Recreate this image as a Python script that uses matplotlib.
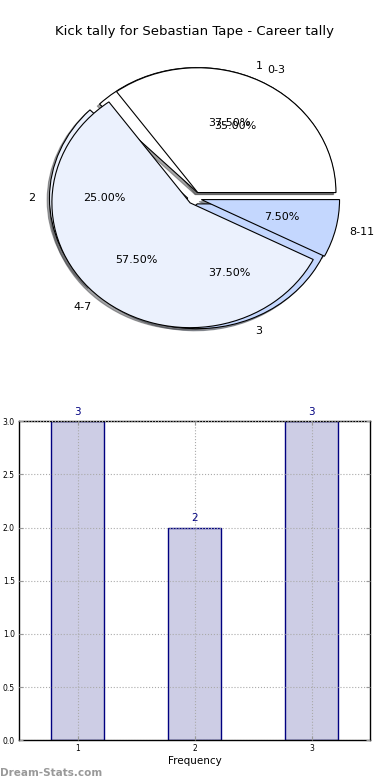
import numpy as np
import matplotlib
matplotlib.use('Agg')
import matplotlib.pyplot as plt

title = 'Kick tally for Sebastian Tape - Career tally'

# inner pie: frequency of tallies
freq_labels = ['1', '2', '3']
freq_values = [3, 2, 3]

# outer pie: kick ranges
range_labels = ['0-3', '4-7', '8-11']
range_values = [14, 23, 3]

pie_colors = ['#ffffff', '#ebf1fd', '#c4d7fe']

# bar chart
bar_x = [1, 2, 3]
bar_counts = [3, 2, 3]

fig = plt.figure(figsize=(3.9, 7.8), dpi=100)

shadow = {'ox': -0.012, 'oy': -0.012, 'label': '_nolegend_'}
ax1 = fig.add_axes([0.056, 0.546, 0.886, 0.4])
ax1.pie(freq_values, labels=freq_labels, colors=pie_colors, explode=[0.05] * 3,
        autopct='%1.2f%%', shadow=shadow, labeldistance=1.1,
        wedgeprops={'linewidth': 0.8, 'edgecolor': 'black'},
        textprops={'fontsize': 8})
ax1.pie(range_values, labels=range_labels, colors=pie_colors, explode=[0.05] * 3,
        autopct='%1.2f%%', shadow=shadow, labeldistance=1.1,
        wedgeprops={'linewidth': 0.8, 'edgecolor': 'black'},
        textprops={'fontsize': 8})
ax1.set_aspect('auto')
ax1.set_xlim(-1.25, 1.25)
ax1.set_ylim(-1.25, 1.25)
ax1.set_title(title, fontsize=9.5, pad=5)
ax1.axis('off')

ax2 = fig.add_axes([0.049, 0.051, 0.9, 0.409])
bars = ax2.bar(bar_x, bar_counts, width=0.45, color='#cdcde5',
               edgecolor='#000080', linewidth=1, zorder=1)
for x, c in zip(bar_x, bar_counts):
    ax2.text(x, c + 0.04, str(c), ha='center', va='bottom',
             color='#000080', fontsize=7.5)
ax2.set_xlim(0.5, 3.5)
ax2.set_ylim(0, 3.0)
ax2.set_xticks(bar_x)
ax2.set_yticks(np.arange(0, 3.01, 0.5))
ax2.tick_params(labelsize=5.5, direction='in', top=True, right=True,
                length=3, color='#999999', pad=3)
ax2.grid(True, linestyle=':', color='#aaaaaa', linewidth=0.8, zorder=3)
ax2.set_axisbelow(False)
ax2.set_xlabel('Frequency', fontsize=7.5, labelpad=2)
for s in ax2.spines.values():
    s.set_linewidth(1)

fig.text(0.0, 0.003, 'Dream-Stats.com', fontsize=7.5, color='#999999',
         fontweight='bold', ha='left', va='bottom')

fig.savefig('out.png', dpi=100)
